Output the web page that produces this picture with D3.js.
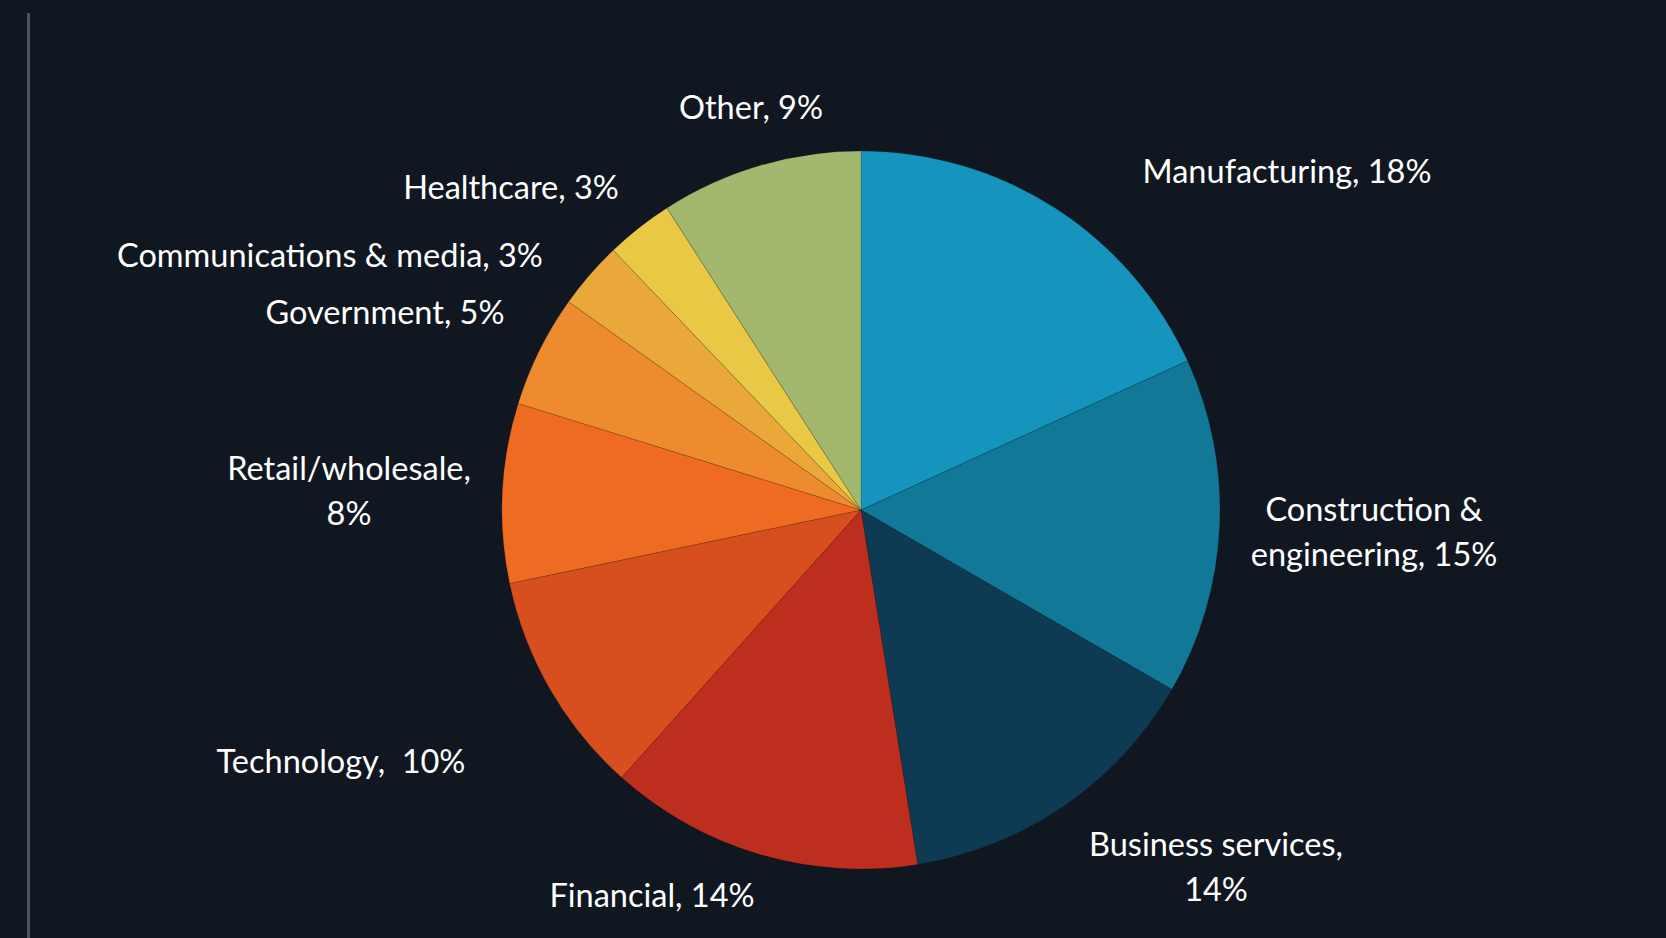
<!DOCTYPE html>
<html>
<head>
<meta charset="utf-8">
<script src="https://cdn.jsdelivr.net/npm/d3@7"></script>
<style>
  html, body { margin: 0; padding: 0; background: #101720; }
  svg { display: block; }
</style>
</head>
<body>
<svg id="chart" width="1666" height="938"></svg>
<script>
// ---- data ----
const categories = ["Manufacturing", "Construction & engineering", "Business services", "Financial",
  "Technology", "Retail/wholesale", "Government", "Communications & media", "Healthcare", "Other"];
const shares = [18, 15, 14, 14, 10, 8, 5, 3, 3, 9];
const labelLines = [
  ["Manufacturing, 18%"],
  ["Construction &", "engineering, 15%"],
  ["Business services,", "14%"],
  ["Financial, 14%"],
  ["Technology,\u00a0 10%"],
  ["Retail/wholesale,", "8%"],
  ["Government, 5%"],
  ["Communications & media, 3%"],
  ["Healthcare, 3%"],
  ["Other, 9%"]
];

// ---- layout / style ----
const W = 1666, H = 938;
const cx = 861, cy = 510, R = 359;
const colors = ["#1595bd", "#127898", "#0e3a53", "#bd2e1e", "#d84f1f", "#ef6b22",
  "#ee8b2f", "#eba83a", "#e8c845", "#a3b86f"];
// label anchor points relative to pie center (px)
const labelPos = [
  [426, -338], [513, 22], [355, 357], [-209, 386], [-520, 252],
  [-512, -19], [-476, -197], [-531, -254], [-350, -322], [-110, -402]
];
const lineGap = 44.5;

const svg = d3.select("#chart");
svg.append("rect").attr("width", W).attr("height", H).attr("fill", "#101720");
svg.append("line").attr("x1", 28.5).attr("x2", 28.5).attr("y1", 13).attr("y2", H)
  .attr("stroke", "#4a5461").attr("stroke-width", 3);

const pie = d3.pie().sort(null).value(d => d);
const arcs = pie(shares);
const arc = d3.arc().innerRadius(0).outerRadius(R);
const color = d3.scaleOrdinal().domain(categories).range(colors);

const g = svg.append("g").attr("transform", `translate(${cx},${cy})`);
g.selectAll("path").data(arcs).join("path")
  .attr("d", arc)
  .attr("fill", (d, i) => color(categories[i]))
  .attr("stroke", "rgba(0,0,0,0.18)")
  .attr("stroke-width", 0.8);

const lbl = g.selectAll("text.lbl").data(arcs).join("text")
  .attr("class", "lbl")
  .attr("text-anchor", "middle")
  .attr("fill", "#ffffff")
  .style("font-family", "'Source Sans Pro', Lato, 'Noto Sans', sans-serif")
  .style("font-size", "32.5px")
  .attr("transform", (d, i) => `translate(${labelPos[i][0]},${labelPos[i][1]})`);

lbl.each(function(d, i) {
  const lines = labelLines[i];
  const t = d3.select(this);
  lines.forEach((s, k) => {
    t.append("tspan").attr("x", 0)
      .attr("y", (k - (lines.length - 1) / 2) * lineGap)
      .attr("dy", "0.35em")
      .text(s);
  });
});
</script>
</body>
</html>
